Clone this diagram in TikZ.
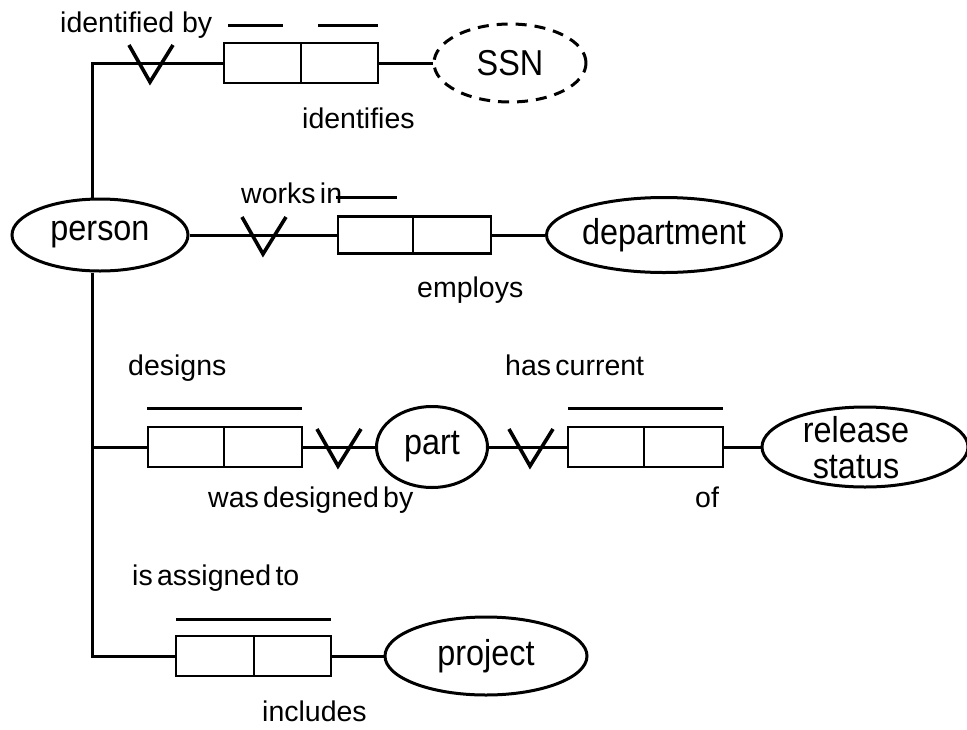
\documentclass[tikz,border=0pt]{standalone}
\usepackage{fontspec}
\setmainfont{Liberation Sans}
\newfontfamily\entfont[FakeStretch=0.9]{Liberation Sans}
\newfontfamily\tightfont[WordSpace=0.55]{Liberation Sans}
\usetikzlibrary{shapes.geometric}

\begin{document}
\begin{tikzpicture}[x=1pt,y=-1pt,
  ent/.style={ellipse, draw, line width=3pt, inner sep=0pt, fill=white,
    font=\entfont\fontsize{36}{36}\selectfont},
  cell/.style={rectangle, draw, line width=2.8pt, minimum height=40pt,
    minimum width=77pt, inner sep=0pt, outer sep=0pt, anchor=west},
  lbl/.style={font=\fontsize{28.5}{30}\selectfont, inner sep=0pt, anchor=base west},
  tlbl/.style={lbl, font=\tightfont\fontsize{28.5}{30}\selectfont},
  conn/.style={line width=3pt},
  bar/.style={line width=3pt},
  vmark/.pic={\draw[line width=3.6pt, line join=miter] (-21,-18) -- (0,19) -- (23,-18);}
]
\useasboundingbox (0,0) rectangle (967,729);

% entity types
\node[ent, minimum width=176pt, minimum height=72pt] (person) at (100,235) {person};
\node[ent, dashed, dash pattern=on 11pt off 8pt, minimum width=152pt, minimum height=78pt] (ssn) at (510,63) {SSN};
\node[ent, minimum width=235pt, minimum height=75pt] (dept) at (664,235) {department};
\node[ent, minimum width=111pt, minimum height=81pt] (part) at (432,447) {part};
\node[ent, minimum width=206pt, minimum height=80pt] (rel) at (865,447) {};
\node[align=center, inner sep=0pt, font=\entfont\fontsize{36}{36}\selectfont] (reltext) at (856,448) {release\\status};
\node[ent, minimum width=202pt, minimum height=78pt] (proj) at (486,656) {project};

% fact type boxes (two roles each)
\node[cell] (r1a) at (224,63) {};
\node[cell] (r1b) at (r1a.east) {};
\node[cell, minimum height=37pt, minimum width=75pt] (r2a) at (338,235) {};
\node[cell, minimum height=37pt, minimum width=78pt] (r2b) at (r2a.east) {};
\node[cell, minimum width=76pt] (r3a) at (148,447) {};
\node[cell, minimum width=78pt] (r3b) at (r3a.east) {};
\node[cell, minimum width=76pt] (r4a) at (568,447) {};
\node[cell, minimum width=79pt] (r4b) at (r4a.east) {};
\node[cell, minimum width=78pt] (r5a) at (176,656) {};
\node[cell] (r5b) at (r5a.east) {};

% corners of the spine on the left
\coordinate (c1) at (92,63);
\coordinate (c3) at (92,447);
\coordinate (c4) at (92,656);

% connectors
\draw[conn] (person.north -| c1) -- (c1) -- (r1a.west);
\draw[conn] (person.south -| c4) -- (c4) -- (r5a.west);
\draw[conn] (c3) -- (r3a.west);
\draw[conn] (r1b.east) -- (ssn.west);
\draw[conn] (person.east) -- (r2a.west);
\draw[conn] (r2b.east) -- (dept.west);
\draw[conn] (r3b.east) -- (part.west);
\draw[conn] (part.east) -- (r4a.west);
\draw[conn] (r4b.east) -- (rel.west);
\draw[conn] (r5b.east) -- (proj.west);

% mandatory role marks
\pic at (150,63) {vmark};
\pic at (263,235) {vmark};
\pic at (338,447) {vmark};
\pic at (530,447) {vmark};

% uniqueness bars
\draw[bar] (228,25) -- (283,25);
\draw[bar] (318,25) -- (378,25);
\draw[bar] (336,197) -- (397,197);
\draw[bar] (147,408) -- (302,408);
\draw[bar] (568,408) -- (723,408);
\draw[bar] (176,619) -- (331,619);

% readings
\node[lbl] (l1) at (60,32) {identified by};
\node[lbl] (l2) at (302,128) {identifies};
\node[tlbl] (l3) at (241,203) {works in};
\node[lbl] (l4) at (417,297) {employs};
\node[lbl] (l5) at (128,375) {designs};
\node[tlbl] (l6) at (208,507) {was designed by};
\node[tlbl] (l7) at (505,375) {has current};
\node[lbl] (l8) at (695,507) {of};
\node[tlbl] (l9) at (132,585) {is assigned to};
\node[lbl] (l10) at (262,721) {includes};
\end{tikzpicture}
\end{document}
